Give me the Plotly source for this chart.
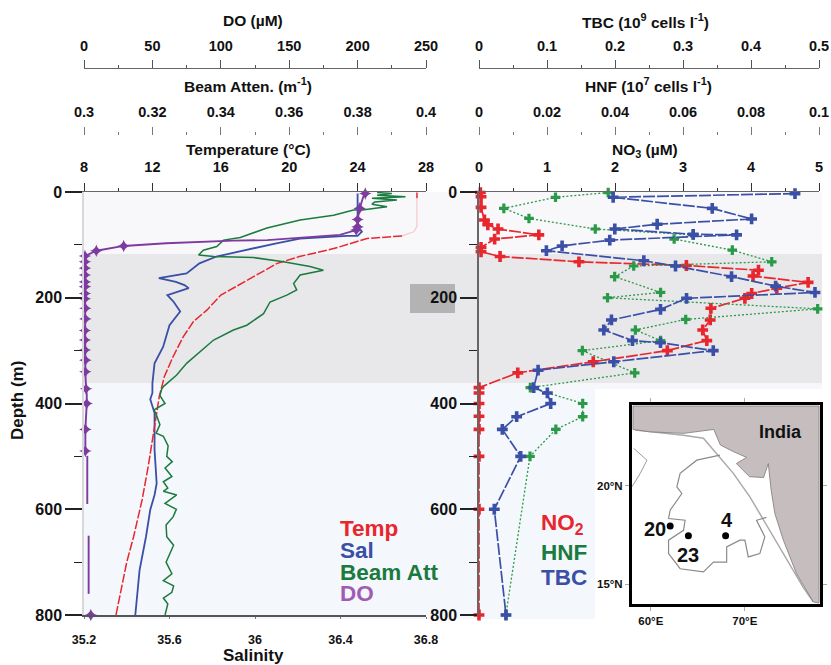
import plotly.graph_objects as go

W, H = 831, 665
FONT = "Liberation Sans"
RED, BLUE, GREEN, PURPLE = "#e8262d", "#3a4fa6", "#1b7a3e", "#7d3b9f"

# ---- left panel profiles ----
temp_depth = [1, 12, 65, 75, 83, 88, 107, 122, 135, 157, 176, 195, 223, 245, 274, 312, 349, 387, 418, 462, 520, 582, 652, 700, 746, 800]
temp_vals = [27.47, 27.47, 27.47, 27.3, 26.6, 24.55, 22.6, 20.6, 19.3, 18.1, 17.1, 16.0, 15.2, 14.4, 13.8, 13.2, 12.7, 12.4, 12.25, 12.05, 11.75, 11.4, 10.9, 10.5, 10.2, 9.87]

sal_depth = [3, 66, 75, 83, 83, 88, 97, 107, 116, 122, 135, 154, 163, 170, 176, 182, 195, 208, 226, 252, 293, 324, 362, 380, 392, 418, 456, 487, 551, 573, 601, 652, 715, 759, 800]
sal_vals = [36.48, 36.48, 36.50, 36.48, 36.43, 36.21, 36.10, 35.99, 35.90, 35.82, 35.74, 35.68, 35.55, 35.63, 35.67, 35.69, 35.59, 35.62, 35.65, 35.60, 35.57, 35.53, 35.52, 35.52, 35.51, 35.53, 35.53, 35.53, 35.54, 35.53, 35.51, 35.49, 35.46, 35.45, 35.44]

beam_depth = [1, 3, 6, 9, 12, 15, 19, 23, 28, 34, 34, 44, 53, 68, 86, 91, 103, 110, 119, 122, 124, 132, 141, 148, 157, 173, 185, 195, 208, 230, 252, 261, 280, 302, 324, 346, 368, 373, 385, 400, 412, 424, 440, 456, 462, 480, 500, 510, 522, 538, 548, 560, 566, 573, 589, 600, 614, 630, 652, 668, 684, 700, 722, 735, 745, 757, 768, 779, 800]
beam_vals = [.3857, .3900, .3857, .3940, .3842, .3915, .3850, .3842, .3886, .3813, .3788, .3730, .3632, .3535, .3457, .3408, .3388, .3349, .3335, .3379, .3496, .3583, .3661, .3700, .3632, .3613, .3622, .3593, .3544, .3525, .3476, .3437, .3379, .3340, .3300, .3271, .3232, .3227, .3222, .3237, .3205, .3213, .3222, .3211, .3232, .3246, .3242, .3258, .3237, .3257, .3232, .3245, .3232, .3271, .3237, .3270, .3261, .3240, .3242, .3262, .3252, .3240, .3257, .3232, .3262, .3257, .3232, .3245, .3237]

do_depth = [3, 10, 31, 52, 66, 72, 81, 86, 91, 92, 97, 102, 111, 121, 132, 144, 157, 170, 179, 192, 202, 220, 240, 262, 280, 299, 318, 340, 372, 382, 400, 449, 490, None, 499, 560, 590, None, 650, 760, None, 800]
do_vals = [205.6, 204, 201.5, 200, 200, 199, 187, 158, 134, 109, 60, 29, 9, 0.7, 0.7, 0.7, 0.7, 0.7, 0.7, 0.7, 0.7, 1, 1, 0.7, 0.7, 0.7, 1, 1, 1.5, 2, 2, 1, 1, None, 2.4, 2.4, 2.4, None, 3.4, 3.4, None, 5]
do_mark_depth = [3, 31, 52, 66, 72, 102, 111, 121, 132, 144, 157, 170, 179, 192, 202, 220, 240, 262, 280, 299, 318, 340, 372, 400, 449, 490, 800]

# ---- right panel profiles ----
no2_depth = [1, 9, 29, 53, 62, 70, 81, 89, 105, 113, 122, 132, 139, 148, 159, 171, 182, 192, 201, 220, 242, 261, 281, 300, 321, 342, 370, 380, 400, 424, 449, 500, 600, 800]
no2_vals = [.02, .03, .03, .08, .13, .28, .88, .23, .03, .03, .31, 1.47, 3.05, 4.11, 4.03, 4.84, 4.38, 4.01, 3.91, 3.41, 3.40, 3.29, 3.35, 2.77, 1.68, .57, 0, 0, 0, 0, 0, 0, 0, 0]

hnf_depth = [1, 10, 31, 50, 70, 81, 89, 110, 132, 140, 160, 190, 200, 221, 241, 261, 281, 300, 342, 370, 400, 425, 449, 500, 800]
hnf_vals = [.0380, .0225, .0073, .0147, .0342, .0630, .0574, .0745, .0861, .0455, .0399, .0534, .0378, .0996, .0608, .0460, .0534, .0304, .0458, .0151, .0305, .0305, .0226, .0150, .0079]

tbc_depth = [3, 10, 31, 51, 61, 70, 80, 81, 91, 102, 111, 130, 140, 160, 178, 190, 201, 222, 242, 261, 281, 285, 300, 321, 337, 370, 380, 400, 425, 449, 500, 600, 800]
tbc_vals = [.4647, .1973, .3430, .4009, .2620, .1997, .3150, .3788, .1923, .1222, .0991, .2424, .2890, .3714, .4362, .4941, .3052, .2669, .1948, .1835, .2257, .2669, .3445, .1982, .0869, .0805, .1005, .1054, .0554, .0343, .0613, .0225, .0397]

# ---- inset map ----
india_lon = [58.1, 59.9, 63.5, 66.7, 67.4, 68.8, 70.2, 69.1, 70.5, 72.0, 72.5, 72.8, 73.2, 74.1, 75.5, 77.3, 77.9, 77.9, 58.1, 58.1]
india_lat = [22.86, 22.74, 22.66, 22.86, 22.07, 21.73, 21.44, 21.13, 20.46, 20.42, 21.13, 19.78, 18.59, 17.24, 15.54, 14.1, 14.05, 24.05, 24.05, 22.86]
contour_lon = [67.36, 64.89, 63.12, 62.77, 63.30, 62.06, 61.89, 63.65, 63.48, 61.89, 61.89, 63.12, 65.60, 66.66, 68.07, 68.07, 69.48, 70.01, 70.37, 71.60, 72.13, 71.25, 72.3]
contour_lat = [21.56, 21.30, 20.63, 19.95, 19.61, 18.76, 18.34, 18.25, 17.74, 17.24, 16.56, 15.79, 15.63, 16.13, 16.13, 16.90, 17.24, 17.24, 16.39, 16.56, 17.41, 18.25, 18.4]
shelf_lon = [58.35, 63.48, 65.60, 66.66, 68.78, 70.54, 72.66, 74.08, 76.2, 77.3]
shelf_lat = [22.83, 22.57, 22.41, 21.81, 20.63, 19.44, 17.74, 16.56, 14.86, 14.1]
gulf_lon = [58.18, 59.59, 58.88, 58.0]
gulf_lat = [21.9, 21.3, 20.63, 19.95]
station_lon = [62.06, 64.0, 67.96]
station_lat = [17.96, 17.46, 17.46]
station_labels = ["20", "23", "4", "India"]
label_lon = [60.4, 64.0, 68.07, 73.83]
label_lat = [17.83, 16.47, 18.25, 22.75]

# ---- axis labels ----
depth_ticks = [0, 200, 400, 600, 800]
sal_ticks = [35.2, 35.6, 36.0, 36.4, 36.8]
sal_text = ["35.2", "35.6", "36", "36.4", "36.8"]
temp_ticks = [8, 12, 16, 20, 24, 28]
beam_ticks = [0.3, 0.32, 0.34, 0.36, 0.38, 0.4]
do_ticks = [0, 50, 100, 150, 200, 250]
no3_ticks = [0, 1, 2, 3, 4, 5]
hnf_ticks = [0, 0.02, 0.04, 0.06, 0.08, 0.1]
tbc_ticks = [0, 0.1, 0.2, 0.3, 0.4, 0.5]


def px(x):
    return x / W


def py(y):
    return 1 - y / H


fig = go.Figure()


def line(xs, ys, color, xa, ya="y", width=1.5, dash="solid", markers=False, size=9, symbol="cross"):
    fig.add_trace(go.Scatter(
        x=xs, y=ys, xaxis=xa, yaxis=ya, mode="lines+markers" if markers else "lines",
        line=dict(color=color, width=width, dash=dash),
        marker=dict(symbol=symbol, size=size, color=color, line=dict(width=0)),
        cliponaxis=False, connectgaps=False, showlegend=False, hoverinfo="skip"))


line(sal_vals, sal_depth, BLUE, "x", width=1.8)
line(temp_vals[:2], temp_depth[:2], RED, "x2", width=1.5)
line(temp_vals[1:5], temp_depth[1:5], "#f6c4c6", "x2", width=1.1)
line(temp_vals[4:], temp_depth[4:], RED, "x2", width=1.5, dash="9px,2px")
line(beam_vals, beam_depth, GREEN, "x3", width=1.5)
line(do_vals, do_depth, PURPLE, "x4", width=1.9)
do_lookup = dict(zip(do_depth, do_vals))
fig.add_trace(go.Scatter(x=[do_lookup[d] for d in do_mark_depth], y=do_mark_depth, xaxis="x4", yaxis="y",
                         mode="markers", marker=dict(symbol="star-diamond", size=9, color=PURPLE, line=dict(width=0)),
                         cliponaxis=False, showlegend=False, hoverinfo="skip"))

line(no2_vals, no2_depth, RED, "x5", "y2", width=1.7, dash="12px,2px", markers=True)
line(hnf_vals, hnf_depth, "#2a9a48", "x6", "y2", width=1.3, dash="2px,2px", markers=True, size=8)
line(tbc_vals, tbc_depth, BLUE, "x7", "y2", width=1.7, dash="12px,2px", markers=True)

line(gulf_lon, gulf_lat, "#999999", "x8", "y3", width=1)
line(shelf_lon, shelf_lat, "#aaaaaa", "x8", "y3", width=1.5)
fig.add_trace(go.Scatter(x=india_lon, y=india_lat, xaxis="x8", yaxis="y3", mode="lines", fill="toself",
                         fillcolor="#c6bebe", line=dict(color="#7d7878", width=0.8), showlegend=False, hoverinfo="skip"))
line(contour_lon, contour_lat, "#8a8a8a", "x8", "y3", width=1.2)
fig.add_trace(go.Scatter(x=station_lon, y=station_lat, xaxis="x8", yaxis="y3", mode="markers",
                         marker=dict(size=7, color="black"), showlegend=False, hoverinfo="skip"))

TICKFONT = dict(family=FONT, size=14.5, color="#111111", weight=700)
left_dom = [px(84), px(426)]
right_dom = [px(479), px(819)]
y_dom = [py(615), py(192)]


def top_axis(vals, rng, minor, overlay, domain, pos=None, line_on=True, tick_color="#555555", standoff=5):
    d = dict(range=rng, domain=domain, side="top", tickmode="array", tickvals=vals, automargin=False,
             ticktext=[f"{v:g}" for v in vals], tickfont=TICKFONT, ticks="outside", ticklen=8,
             tickwidth=1.3, tickcolor=tick_color, showgrid=False, zeroline=False,
             ticklabelstandoff=standoff, showline=line_on, linecolor="#666666", linewidth=1,
             minor=dict(tickmode="array", tickvals=minor, ticks="outside", ticklen=3, tickcolor=tick_color, tickwidth=1))
    if overlay:
        d["overlaying"] = overlay
    if pos is not None:
        d["anchor"] = "free"
        d["position"] = pos
    return d


def depth_axis(anchor, line_color):
    return dict(range=[800, 0], domain=y_dom, anchor=anchor, tickmode="array", tickvals=depth_ticks, automargin=False,
                tickfont=dict(family=FONT, size=16, color="#111111", weight=700), ticks="outside", ticklen=17, tickwidth=1.6,
                tickcolor="#222222", showgrid=False, zeroline=False, showline=True, linecolor=line_color, linewidth=1.5,
                minor=dict(tickmode="array", tickvals=[100, 300, 500, 700], ticks="outside", ticklen=8, tickcolor="#222222", tickwidth=1.3))


layout = dict(
    width=W, height=H, autosize=False, margin=dict(l=0, r=0, t=0, b=0),
    paper_bgcolor="white", plot_bgcolor="rgba(0,0,0,0)", showlegend=False, font=dict(family=FONT),
    xaxis=dict(range=[35.2, 36.8], domain=left_dom, anchor="y", side="bottom", tickmode="array", tickvals=sal_ticks, automargin=False,
               ticktext=sal_text, tickfont=dict(family=FONT, size=12.5, color="#111111", weight=700), ticks="outside", ticklen=2,
               tickcolor="#777777", showgrid=False, zeroline=False, showline=True, linecolor="#555555", linewidth=1.5,
               ticklabelstandoff=10),
    xaxis2=top_axis(temp_ticks, [8, 28], [10, 14, 18, 22, 26], "x", left_dom, line_on=True, tick_color="#333333", standoff=5),
    xaxis3=top_axis(beam_ticks, [0.3, 0.4], [0.31, 0.33, 0.35, 0.37, 0.39], "x", left_dom, pos=py(135), line_on=False, tick_color="#777777", standoff=4),
    xaxis4=top_axis(do_ticks, [0, 250], [25, 75, 125, 175, 225], "x", left_dom, pos=py(68), standoff=3),
    xaxis5=top_axis(no3_ticks, [0, 5], [0.5, 1.5, 2.5, 3.5, 4.5], None, right_dom, line_on=True, tick_color="#333333", standoff=5),
    xaxis6=top_axis(hnf_ticks, [0, 0.1], [0.01, 0.03, 0.05, 0.07, 0.09], "x5", right_dom, pos=py(135), line_on=False, tick_color="#777777", standoff=4),
    xaxis7=top_axis(tbc_ticks, [0, 0.5], [0.05, 0.15, 0.25, 0.35, 0.45], "x5", right_dom, pos=py(68), standoff=3),
    xaxis8=dict(range=[58, 78], domain=[px(632), px(820)], anchor="y3", tickmode="array", tickvals=[60, 70], automargin=False,
                ticktext=["60°E", "70°E"], tickfont=dict(family=FONT, size=11.5, color="#111111", weight=700), ticks="outside", ticklen=4,
                tickcolor="#aaaaaa", showgrid=False, zeroline=False, showline=True, mirror="allticks", linecolor="black", linewidth=3),
    yaxis=depth_axis("x", "#d8d8dc"),
    yaxis2=depth_axis("x5", "#666666"),
    yaxis3=dict(range=[14, 24.1], domain=[py(604), py(405)], anchor="x8", tickmode="array", tickvals=[15, 20], automargin=False,
                ticktext=["15°N", "20°N"], tickfont=dict(family=FONT, size=11.5, color="#111111", weight=700), ticks="outside", ticklen=4,
                tickcolor="#aaaaaa", showgrid=False, zeroline=False, showline=True, mirror="allticks", linecolor="black", linewidth=3),
)
fig.update_layout(**layout)


def rect(x0, x1, y0, y1, color):
    fig.add_shape(type="rect", xref="paper", yref="paper", x0=px(x0), x1=px(x1), y0=py(y0), y1=py(y1),
                  fillcolor=color, line=dict(width=0), layer="below")


rect(84, 822, 192, 254, "#f8f8fb")
rect(84, 822, 254, 383, "#e8e8eb")
rect(84, 822, 383, 389, "#f6f7fb")
rect(84, 595, 389, 619, "#f4f7fb")
rect(410, 455, 284, 313, "#b3b3b3")


def note(text, x, y, size=15.5, color="#111111", anchor="center"):
    fig.add_annotation(text=text, xref="paper", yref="paper", x=px(x), y=py(y), showarrow=False,
                       xanchor=anchor, yanchor="middle", font=dict(family=FONT, size=size, color=color))


for t, x, y in [
    ("<b>DO (µM)</b>", 253, 20),
    ("<b>Beam Atten. (m<sup>-1</sup>)</b>", 248, 85),
    ("<b>Temperature (°C)</b>", 248, 149),
    ("<b>TBC (10<sup>9</sup> cells l<sup>-1</sup>)</b>", 645, 21),
    ("<b>HNF (10<sup>7</sup> cells l<sup>-1</sup>)</b>", 648, 85),
    ("<b>NO<sub>3</sub> (µM)</b>", 645, 150),
]:
    note(t, x, y)
note("<b>Salinity</b>", 253, 655, size=17)
fig.add_annotation(text="<b>Depth (m)</b>", xref="paper", yref="paper", x=px(18), y=py(401), showarrow=False,
                   xanchor="center", yanchor="middle", textangle=-90, font=dict(family=FONT, size=17, color="#111111"))

for t, y, c in [("Temp", 528, RED), ("Sal", 550, BLUE), ("Beam Att", 572, GREEN), ("DO", 593, "#a05bb5")]:
    note(f"<b>{t}</b>", 338, y, size=22.5, color=c, anchor="left")
for t, y, c in [("NO<sub>2</sub>", 524, RED), ("HNF", 552, GREEN), ("TBC", 577, BLUE)]:
    note(f"<b>{t}</b>", 539, y, size=22.5, color=c, anchor="left")

for name, lon, lat, size in zip(station_labels, label_lon, label_lat, [20, 20, 20, 18]):
    fig.add_annotation(text=f"<b>{name}</b>", xref="x8", yref="y3", x=lon, y=lat, showarrow=False,
                       font=dict(family=FONT, size=size, color="#111111"))

fig.write_html("out.html", config={"displayModeBar": False},
               post_script="document.body.style.margin='0';document.documentElement.style.overflow='hidden';")
